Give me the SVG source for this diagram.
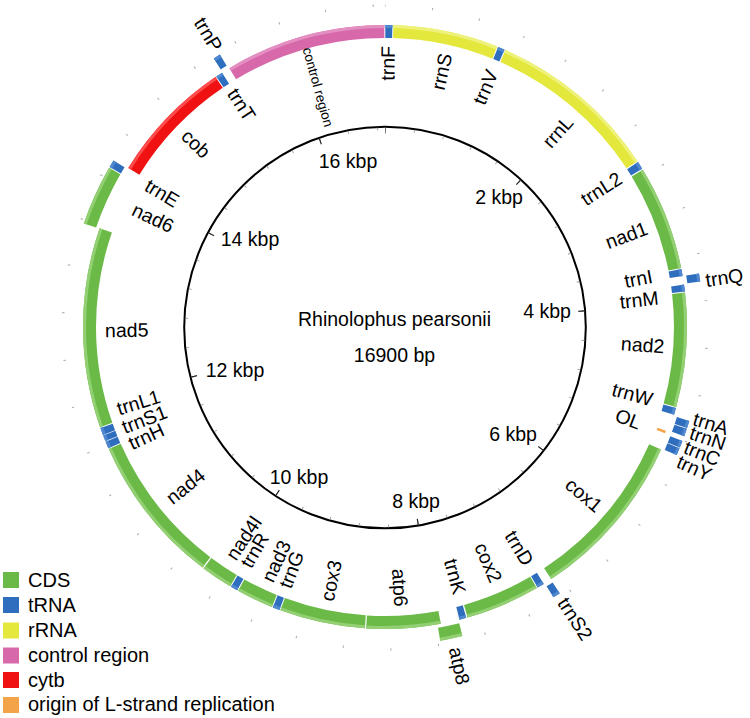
<svg xmlns="http://www.w3.org/2000/svg" width="750" height="718" viewBox="0 0 750 718">
<style>
text{font-family:"Liberation Sans",Arial,Helvetica,sans-serif;font-size:19.5px;fill:#000}
.e{text-anchor:end}.s{text-anchor:start}.c{text-anchor:middle}
circle{fill:none}
.rot{transform:rotate(-90deg)}
.cds .b{stroke:#6bba47}.cds .h{stroke:#93cf73}
.trna .b{stroke:#2f6ebe}.trna .h{stroke:#4f88cf}
.rrna .b{stroke:#e4e83c}.rrna .h{stroke:#eef27c}
.ctrl .b{stroke:#d768aa}.ctrl .h{stroke:#e48fc2}
.cytb .b{stroke:#f01212}.cytb .h{stroke:#ff4d4d}
.ori .b{stroke:#f4a448}
.b{stroke-width:13}.h{stroke-width:3}
.leg{font-size:20px}
</style>
<g id="scale" transform="translate(385,327.5)">
<circle r="200.8" stroke="#000" stroke-width="2"/>
<circle class="rot" r="198.5" pathLength="16900" stroke="#9a9a9a" stroke-width="3" stroke-dasharray="12 388" stroke-dashoffset="6"/>
<circle class="rot" r="197" pathLength="16900" stroke="#222" stroke-width="6" stroke-dasharray="16 1984" stroke-dashoffset="8"/>
<circle class="rot" r="322" pathLength="16900" stroke="#b0b0b0" stroke-width="2.5" stroke-dasharray="9 391" stroke-dashoffset="4.5"/>
<text class="c" x="-37" y="-160">16 kbp</text>
<text class="c" x="114" y="-123.5">2 kbp</text>
<text class="c" x="-135" y="-81.5">14 kbp</text>
<text class="c" x="162" y="-9.5">4 kbp</text>
<text class="c" x="-150" y="49.5">12 kbp</text>
<text class="c" x="128" y="113.5">6 kbp</text>
<text class="c" x="-86" y="156.5">10 kbp</text>
<text class="c" x="31" y="180.5">8 kbp</text>
<text class="c" x="9.5" y="-1.5">Rhinolophus pearsonii</text>
<text class="c" x="9.5" y="34.5">16900 bp</text>
</g>
<g id="genes" transform="translate(385,327)">
<g id="trnF" class="trna" style="stroke-dasharray:64 20000;stroke-dashoffset:-3"><circle class="b rot" r="295.5" pathLength="16900"/><circle class="h rot" r="300.5" pathLength="16900"/><text class="e" transform="rotate(-89.4)" x="281" dy="0.35em">trnF</text></g>
<g id="rrnS" class="rrna" style="stroke-dasharray:948 20000;stroke-dashoffset:-76"><circle class="b rot" r="295.5" pathLength="16900"/><circle class="h rot" r="300.5" pathLength="16900"/><text class="e" transform="rotate(-77.5)" x="280" dy="0.35em">rrnS</text></g>
<g id="trnV" class="trna" style="stroke-dasharray:62 20000;stroke-dashoffset:-1033"><circle class="b rot" r="295.5" pathLength="16900"/><circle class="h rot" r="300.5" pathLength="16900"/><text class="e" transform="rotate(-67.3)" x="278" dy="0.35em">trnV</text></g>
<g id="rrnL" class="rrna" style="stroke-dasharray:1558 20000;stroke-dashoffset:-1104"><circle class="b rot" r="295.5" pathLength="16900"/><circle class="h rot" r="300.5" pathLength="16900"/><text class="e" transform="rotate(-48.5)" x="278" dy="0.35em">rrnL</text></g>
<g id="trnL2" class="trna" style="stroke-dasharray:69 20000;stroke-dashoffset:-2671"><circle class="b rot" r="295.5" pathLength="16900"/><circle class="h rot" r="300.5" pathLength="16900"/><text class="e" transform="rotate(-32.6)" x="279" dy="0.35em">trnL2</text></g>
<g id="nad1" class="cds" style="stroke-dasharray:945 20000;stroke-dashoffset:-2751"><circle class="b rot" r="295.5" pathLength="16900"/><circle class="h rot" r="300.5" pathLength="16900"/><text class="e" transform="rotate(-20.8)" x="280" dy="0.35em">nad1</text></g>
<g id="trnI" class="trna" style="stroke-dasharray:62 20000;stroke-dashoffset:-3705"><circle class="b rot" r="295.5" pathLength="16900"/><circle class="h rot" r="300.5" pathLength="16900"/><text class="e" transform="rotate(-10.8)" x="272" dy="0.35em">trnI</text></g>
<g id="trnQ" class="trna" style="stroke-dasharray:68 20000;stroke-dashoffset:-3770"><circle class="b rot" r="312" pathLength="16900"/><circle class="h rot" r="317" pathLength="16900"/><text class="s" transform="rotate(-8.3)" x="324" dy="0.35em">trnQ</text></g>
<g id="trnM" class="trna" style="stroke-dasharray:63 20000;stroke-dashoffset:-3845"><circle class="b rot" r="295.5" pathLength="16900"/><circle class="h rot" r="300.5" pathLength="16900"/><text class="e" transform="rotate(-6.1)" x="275" dy="0.35em">trnM</text></g>
<g id="nad2" class="cds" style="stroke-dasharray:1030 20000;stroke-dashoffset:-3917"><circle class="b rot" r="295.5" pathLength="16900"/><circle class="h rot" r="300.5" pathLength="16900"/><text class="e" transform="rotate(4)" x="280" dy="0.35em">nad2</text></g>
<g id="trnW" class="trna" style="stroke-dasharray:62 20000;stroke-dashoffset:-4956"><circle class="b rot" r="295.5" pathLength="16900"/><circle class="h rot" r="300.5" pathLength="16900"/><text class="e" transform="rotate(15.2)" x="277" dy="0.35em">trnW</text></g>
<g id="trnA" class="trna" style="stroke-dasharray:63 20000;stroke-dashoffset:-5031"><circle class="b rot" r="312" pathLength="16900"/><circle class="h rot" r="317" pathLength="16900"/><text class="s" transform="rotate(16.5)" x="322" dy="0.35em">trnA</text></g>
<g id="trnN" class="trna" style="stroke-dasharray:67 20000;stroke-dashoffset:-5101"><circle class="b rot" r="312" pathLength="16900"/><circle class="h rot" r="317" pathLength="16900"/><text class="s" transform="rotate(19)" x="323" dy="0.35em">trnN</text></g>
<g id="OL" class="ori" style="stroke-dasharray:22 20000;stroke-dashoffset:-5178"><circle class="rot" r="295" pathLength="16900" stroke="#f4a448" stroke-width="9"/><text class="e" transform="rotate(20.7)" x="273" dy="0.35em">OL</text></g>
<g id="trnC" class="trna" style="stroke-dasharray:61 20000;stroke-dashoffset:-5209"><circle class="b rot" r="312" pathLength="16900"/><circle class="h rot" r="317" pathLength="16900"/><text class="s" transform="rotate(21.7)" x="323" dy="0.35em">trnC</text></g>
<g id="trnY" class="trna" style="stroke-dasharray:63 20000;stroke-dashoffset:-5276"><circle class="b rot" r="312" pathLength="16900"/><circle class="h rot" r="317" pathLength="16900"/><text class="s" transform="rotate(24.5)" x="322" dy="0.35em">trnY</text></g>
<g id="cox1" class="cds" style="stroke-dasharray:1533 20000;stroke-dashoffset:-5349"><circle class="b rot" r="295.5" pathLength="16900"/><circle class="h rot" r="300.5" pathLength="16900"/><text class="e" transform="rotate(40.2)" x="281" dy="0.35em">cox1</text></g>
<g id="trnS2" class="trna" style="stroke-dasharray:63 20000;stroke-dashoffset:-6888"><circle class="b rot" r="312" pathLength="16900"/><circle class="h rot" r="317" pathLength="16900"/><text class="s" transform="rotate(56.9)" x="325" dy="0.35em">trnS2</text></g>
<g id="trnD" class="trna" style="stroke-dasharray:63 20000;stroke-dashoffset:-6961"><circle class="b rot" r="295.5" pathLength="16900"/><circle class="h rot" r="300.5" pathLength="16900"/><text class="e" transform="rotate(58.7)" x="277" dy="0.35em">trnD</text></g>
<g id="cox2" class="cds" style="stroke-dasharray:672 20000;stroke-dashoffset:-7033"><circle class="b rot" r="295.5" pathLength="16900"/><circle class="h rot" r="300.5" pathLength="16900"/><text class="e" transform="rotate(66.3)" x="278" dy="0.35em">cox2</text></g>
<g id="trnK" class="trna" style="stroke-dasharray:62 20000;stroke-dashoffset:-7717"><circle class="b rot" r="295.5" pathLength="16900"/><circle class="h rot" r="300.5" pathLength="16900"/><text class="e" transform="rotate(74.3)" x="277" dy="0.35em">trnK</text></g>
<g id="atp8" class="cds" style="stroke-dasharray:192 20000;stroke-dashoffset:-7789"><circle class="b rot" r="312" pathLength="16900"/><circle class="h rot" r="317" pathLength="16900"/><text class="s" transform="rotate(77.6)" x="328" dy="0.35em">atp8</text></g>
<g id="atp6" class="cds" style="stroke-dasharray:669 20000;stroke-dashoffset:-7950"><circle class="b rot" r="295.5" pathLength="16900"/><circle class="h rot" r="300.5" pathLength="16900"/><text class="e" transform="rotate(86.7)" x="280" dy="0.35em">atp6</text></g>
<g id="cox3" class="cds" style="stroke-dasharray:772 20000;stroke-dashoffset:-8630"><circle class="b rot" r="295.5" pathLength="16900"/><circle class="h rot" r="300.5" pathLength="16900"/><text class="s" transform="rotate(-78)" x="-280" dy="0.35em">cox3</text></g>
<g id="trnG" class="trna" style="stroke-dasharray:63 20000;stroke-dashoffset:-9411"><circle class="b rot" r="295.5" pathLength="16900"/><circle class="h rot" r="300.5" pathLength="16900"/><text class="s" transform="rotate(-68.9)" x="-279" dy="0.35em">trnG</text></g>
<g id="nad3" class="cds" style="stroke-dasharray:334 20000;stroke-dashoffset:-9483"><circle class="b rot" r="295.5" pathLength="16900"/><circle class="h rot" r="300.5" pathLength="16900"/><text class="s" transform="rotate(-65.1)" x="-280" dy="0.35em">nad3</text></g>
<g id="trnR" class="trna" style="stroke-dasharray:63 20000;stroke-dashoffset:-9827"><circle class="b rot" r="295.5" pathLength="16900"/><circle class="h rot" r="300.5" pathLength="16900"/><text class="s" transform="rotate(-59.7)" x="-277" dy="0.35em">trnR</text></g>
<g id="nad4l" class="cds" style="stroke-dasharray:285 20000;stroke-dashoffset:-9899"><circle class="b rot" r="295.5" pathLength="16900"/><circle class="h rot" r="300.5" pathLength="16900"/><text class="s" transform="rotate(-56.2)" x="-278" dy="0.35em">nad4l</text></g>
<g id="nad4" class="cds" style="stroke-dasharray:1359 20000;stroke-dashoffset:-10196"><circle class="b rot" r="295.5" pathLength="16900"/><circle class="h rot" r="300.5" pathLength="16900"/><text class="s" transform="rotate(-38.6)" x="-277" dy="0.35em">nad4</text></g>
<g id="trnH" class="trna" style="stroke-dasharray:63 20000;stroke-dashoffset:-11564"><circle class="b rot" r="295.5" pathLength="16900"/><circle class="h rot" r="300.5" pathLength="16900"/><text class="s" transform="rotate(-24.6)" x="-281" dy="0.35em">trnH</text></g>
<g id="trnS1" class="trna" style="stroke-dasharray:53 20000;stroke-dashoffset:-11633"><circle class="b rot" r="295.5" pathLength="16900"/><circle class="h rot" r="300.5" pathLength="16900"/><text class="s" transform="rotate(-21)" x="-281" dy="0.35em">trnS1</text></g>
<g id="trnL1" class="trna" style="stroke-dasharray:64 20000;stroke-dashoffset:-11692"><circle class="b rot" r="295.5" pathLength="16900"/><circle class="h rot" r="300.5" pathLength="16900"/><text class="s" transform="rotate(-17)" x="-280" dy="0.35em">trnL1</text></g>
<g id="nad5" class="cds" style="stroke-dasharray:1807 20000;stroke-dashoffset:-11765"><circle class="b rot" r="295.5" pathLength="16900"/><circle class="h rot" r="300.5" pathLength="16900"/><text class="s" transform="rotate(-0.7)" x="-280" dy="0.35em">nad5</text></g>
<g id="nad6" class="cds" style="stroke-dasharray:516 20000;stroke-dashoffset:-13567"><circle class="b rot" r="312" pathLength="16900"/><circle class="h rot" r="317" pathLength="16900"/><text class="s" transform="rotate(25.2)" x="-278" dy="0.35em">nad6</text></g>
<g id="trnE" class="trna" style="stroke-dasharray:63 20000;stroke-dashoffset:-14092"><circle class="b rot" r="312" pathLength="16900"/><circle class="h rot" r="317" pathLength="16900"/><text class="s" transform="rotate(31)" x="-278" dy="0.35em">trnE</text></g>
<g id="cob" class="cytb" style="stroke-dasharray:1128 20000;stroke-dashoffset:-14168"><circle class="b rot" r="295.5" pathLength="16900"/><circle class="h rot" r="300.5" pathLength="16900"/><text class="s" transform="rotate(44.1)" x="-279" dy="0.35em">cob</text></g>
<g id="trnT" class="trna" style="stroke-dasharray:62 20000;stroke-dashoffset:-15305"><circle class="b rot" r="295.5" pathLength="16900"/><circle class="h rot" r="300.5" pathLength="16900"/><text class="s" transform="rotate(57.2)" x="-282" dy="0.35em">trnT</text></g>
<g id="trnP" class="trna" style="stroke-dasharray:61 20000;stroke-dashoffset:-15373"><circle class="b rot" r="312" pathLength="16900"/><circle class="h rot" r="317" pathLength="16900"/><text class="e" transform="rotate(58.9)" x="-324" dy="0.35em">trnP</text></g>
<g id="control-region" class="ctrl" style="stroke-dasharray:1451 20000;stroke-dashoffset:-15443"><circle class="b rot" r="295.5" pathLength="16900"/><circle class="h rot" r="300.5" pathLength="16900"/><text class="s" transform="rotate(74.4)" x="-290" dy="0.35em" style="font-size:13.5px">control region</text></g>
</g>
<g id="connectors"/>
<g id="legend">
<rect x="3" y="572" width="16" height="16" fill="#6bba47"/><text class="leg" x="28" y="587">CDS</text>
<rect x="3" y="597" width="16" height="16" fill="#2f6ebe"/><text class="leg" x="28" y="612">tRNA</text>
<rect x="3" y="622.5" width="16" height="16" fill="#e4e83c"/><text class="leg" x="28" y="637">rRNA</text>
<rect x="3" y="647.5" width="16" height="16" fill="#d768aa"/><text class="leg" x="28" y="662">control region</text>
<rect x="3" y="672" width="16" height="16" fill="#f01212"/><text class="leg" x="28" y="687">cytb</text>
<rect x="3" y="697" width="16" height="16" fill="#f4a448"/><text class="leg" x="28" y="711">origin of L-strand replication</text>
</g>
</svg>
